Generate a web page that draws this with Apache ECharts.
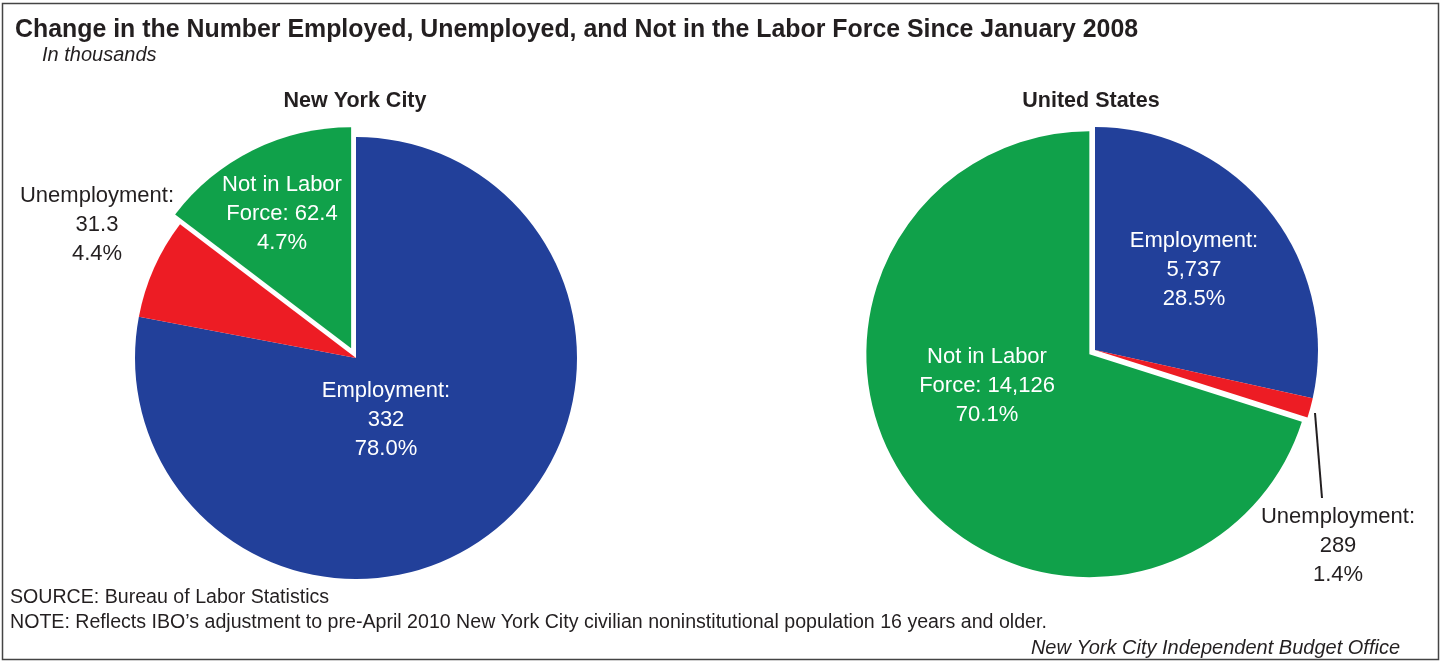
<!DOCTYPE html>
<html><head><meta charset="utf-8">
<script src="https://cdn.jsdelivr.net/npm/echarts@6/dist/echarts.min.js"></script>
<style>html,body{margin:0;padding:0;background:#fff}#c{width:1442px;height:663px}</style>
</head><body><div id="c"></div>
<script>
const categories = ['Employment', 'Unemployment', 'Not in Labor Force'];
const nycValues = [332, 31.3, 62.4];
const usValues = [5737, 289, 14126];
const nycLabels = ['Employment:\n332\n78.0%', 'Unemployment:\n31.3\n4.4%', 'Not in Labor\nForce: 62.4\n4.7%'];
const usLabels = ['Employment:\n5,737\n28.5%', 'Unemployment:\n289\n1.4%', 'Not in Labor\nForce: 14,126\n70.1%'];

const colors = ['#22409A', '#ED1C24', '#10A14A'];
const labelColors = ['#ffffff', '#231f20', '#ffffff'];
const FONT = '"Liberation Sans", Arial, sans-serif';

// label anchor positions (layout only)
const labelPos = [
  [[386, 420], [97, 225], [282, 214]],
  [[1194, 270], [1338, 546], [987, 386]]
];

function mkData(vals) {
  return vals.map((v, i) => ({
    name: categories[i],
    value: v,
    selected: i === 2,
    itemStyle: { color: colors[i] }
  }));
}

const labelGraphics = [];
[nycLabels, usLabels].forEach((labels, s) => {
  labels.forEach((t, i) => {
    labelGraphics.push({
      type: 'text', z: 20,
      style: {
        x: labelPos[s][i][0], y: labelPos[s][i][1], text: t,
        fill: labelColors[i], font: '22px ' + FONT, lineHeight: 29,
        align: 'center', verticalAlign: 'middle'
      }
    });
  });
});

const chart = echarts.init(document.getElementById('c'), null, { renderer: 'canvas' });
chart.setOption({
  animation: false,
  backgroundColor: '#fff',
  graphic: [
    { type: 'rect', shape: { x: 2.5, y: 3.5, width: 1436, height: 656 }, style: { fill: 'none', stroke: '#444', lineWidth: 1.5 }, z: 10 },
    { type: 'text', style: { x: 15, y: 30, text: 'Change in the Number Employed, Unemployed, and Not in the Labor Force Since January 2008', font: 'bold 24.9px ' + FONT, fill: '#231f20', verticalAlign: 'middle' } },
    { type: 'text', style: { x: 42, y: 55, text: 'In thousands', font: 'italic 20px ' + FONT, fill: '#231f20', verticalAlign: 'middle' } },
    { type: 'text', style: { x: 355, y: 101, text: 'New York City', font: 'bold 21.5px ' + FONT, fill: '#231f20', align: 'center', verticalAlign: 'middle' } },
    { type: 'text', style: { x: 1091, y: 101, text: 'United States', font: 'bold 21.5px ' + FONT, fill: '#231f20', align: 'center', verticalAlign: 'middle' } },
    { type: 'text', style: { x: 10, y: 598, text: 'SOURCE: Bureau of Labor Statistics', font: '19.6px ' + FONT, fill: '#231f20', verticalAlign: 'middle' } },
    { type: 'text', style: { x: 10, y: 623, text: 'NOTE: Reflects IBO\u2019s adjustment to pre-April 2010 New York City civilian noninstitutional population 16 years and older.', font: '19.6px ' + FONT, fill: '#231f20', verticalAlign: 'middle' } },
    { type: 'text', style: { x: 1400, y: 648, text: 'New York City Independent Budget Office', font: 'italic 20px ' + FONT, fill: '#231f20', align: 'right', verticalAlign: 'middle' } },
    { type: 'polyline', z: 20, shape: { points: [[1315, 413], [1322, 498]] }, style: { stroke: '#231f20', lineWidth: 2, fill: null } }
  ].concat(labelGraphics),
  series: [
    {
      type: 'pie',
      center: [356, 358],
      radius: 221,
      startAngle: 90,
      clockwise: true,
      selectedMode: 'single',
      selectedOffset: 11,
      silent: true,
      label: { show: false },
      labelLine: { show: false },
      emphasis: { disabled: true },
      data: mkData(nycValues)
    },
    {
      type: 'pie',
      center: [1095, 350],
      radius: 223,
      startAngle: 90,
      clockwise: true,
      selectedMode: 'single',
      selectedOffset: 7,
      silent: true,
      label: { show: false },
      labelLine: { show: false },
      emphasis: { disabled: true },
      data: mkData(usValues)
    }
  ]
});
</script></body></html>
